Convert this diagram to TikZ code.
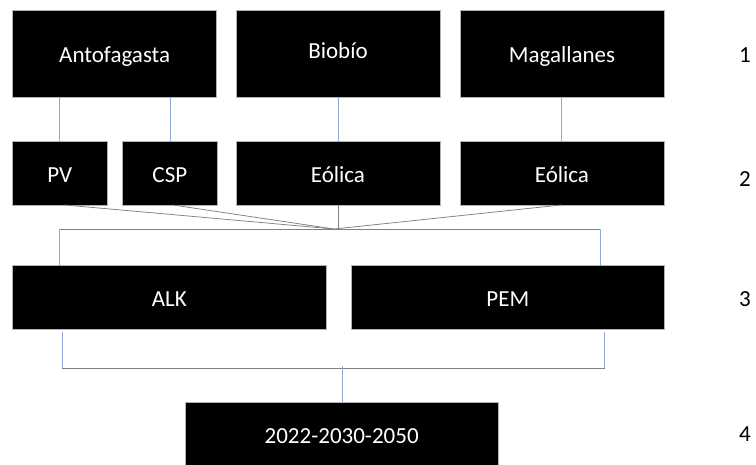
\documentclass[tikz,border=0pt]{standalone}
\usepackage{fontspec}
\setmainfont{Carlito}
\begin{document}
\begin{tikzpicture}[x=1pt,y=1pt,
  box/.style={rectangle, fill=black, draw=gray!60, line width=0.5pt, inner sep=0pt, outer sep=0pt,
    text=white, font=\fontsize{23}{27}\selectfont, text height=18pt, text depth=0pt},
  num/.style={font=\fontsize{23}{27}\selectfont, text=black, inner sep=0pt, text height=18pt, text depth=0pt},
  bline/.style={draw={rgb,255:red,142;green,170;blue,219}, line width=0.75pt},
  gline/.style={draw={rgb,255:red,128;green,128;blue,128}, line width=0.75pt}]
\useasboundingbox[fill=white] (0,0) rectangle (756,-464);
% row 1
\node[box, minimum width=204pt, minimum height=87pt] (ant) at (114.7,-53.5) {Antofagasta};
\node[box, minimum width=204pt, minimum height=87pt, text height=9pt] (bio) at (338,-53.5) {Biobío};
\node[box, minimum width=204pt, minimum height=87pt] (mag) at (562,-53.5) {Magallanes};
% row 2
\node[box, minimum width=94.3pt, minimum height=64pt] (pv) at (59.85,-173) {PV};
\node[box, minimum width=94.3pt, minimum height=64pt] (csp) at (169.85,-173) {CSP};
\node[box, minimum width=204pt, minimum height=64pt] (eo1) at (338,-173) {Eólica};
\node[box, minimum width=204pt, minimum height=64pt] (eo2) at (562,-173) {Eólica};
% row 3
\node[box, minimum width=313.3pt, minimum height=63.3pt] (alk) at (169.35,-297.35) {ALK};
\node[box, minimum width=313.7pt, minimum height=63.3pt] (pem) at (507.85,-297.35) {PEM};
% row 4
\node[box, minimum width=313.3pt, minimum height=63.3pt] (yr) at (341.65,-434.35) {2022-2030-2050};
% level numbers
\node[num] (n1) at (745,-53.5) {1};
\node[num] (n2) at (745,-177) {2};
\node[num] (n3) at (745,-297.5) {3};
\node[num] (n4) at (745,-432) {4};
% coordinates
\coordinate (conv) at (334,-229);
\coordinate (hl) at (59.3,-229);
\coordinate (hr) at (600.7,-229);
\coordinate (pvb) at (65,-205);
\coordinate (cspb) at (173,-205);
\coordinate (eo2b) at (561,-205);
\coordinate (alkb) at (62.3,-332);
\coordinate (bl) at (62.3,-368);
\coordinate (br) at (604.7,-368);
\coordinate (pemb) at (604.7,-332);
\coordinate (bm) at (342.7,-366);
% blue connectors row1 -> row2
\draw[bline] (ant.south -| pv.north) -- (pv.north);
\draw[bline] (ant.south -| 170,0) -- (csp.north -| 170,0);
\draw[bline] (bio.south) -- (eo1.north);
\draw[bline] (mag.south -| 561,0) -- (eo2.north -| 561,0);
% gray converging lines
\draw[gline] (pvb) -- (conv);
\draw[gline] (cspb) -- (conv);
\draw[gline] (eo2b) -- (conv);
\draw[gline] (eo1.south) -- (eo1.south |- conv);
\draw[gline] (hl) -- (hr);
% blue drops to ALK/PEM
\draw[bline] (hl) -- (hl |- alk.north);
\draw[bline] (hr) -- (hr |- pem.north);
% bottom bracket
\draw[bline] (alkb) -- (bl);
\draw[gline] (bl) -- (br);
\draw[bline] (br) -- (pemb);
\draw[bline] (bm) -- (bm |- yr.north);
\end{tikzpicture}
\end{document}
